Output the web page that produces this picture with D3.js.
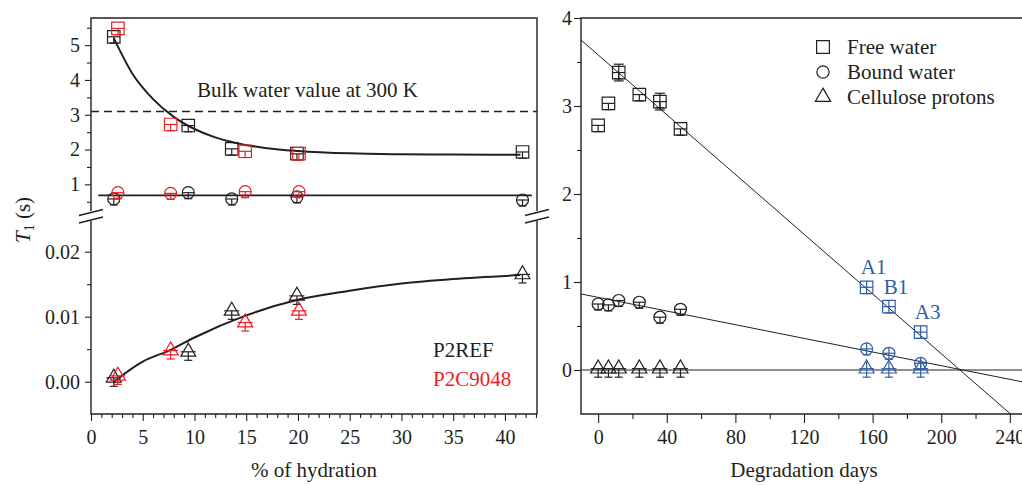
<!DOCTYPE html>
<html>
<head>
<meta charset="utf-8">
<script src="https://cdn.jsdelivr.net/npm/d3@7"></script>
<style>
  body { margin: 0; background: #fff; }
  svg { display: block; font-family: "Liberation Serif", "Times New Roman", serif; }
  .tick text { font-size: 20px; fill: #231f20; font-family: "Liberation Serif", "Times New Roman", serif; }
  .tick line { stroke: #231f20; stroke-width: 1.1; }
</style>
</head>
<body>
<svg id="chart" width="1022" height="485"></svg>
<script>

// -----------------------------------------------------------------------------
// Data
// -----------------------------------------------------------------------------

// left panel: T1 vs % of hydration
var refHyd     = [2.2, 9.4, 13.6, 19.9, 41.7];
var refFree    = [5.24, 2.69, 2.02, 1.88, 1.93];
var refBound   = [0.58, 0.76, 0.58, 0.64, 0.55];
var refCell    = [0.0006, 0.0046, 0.0109, 0.0132, 0.0165];

var c9048Hyd   = [2.6, 7.7, 14.9, 20.1];
var c9048Free  = [5.48, 2.72, 1.95, 1.88];
var c9048Bound = [0.76, 0.74, 0.79, 0.79];
var c9048Cell  = [0.0009, 0.0048, 0.0091, 0.0109];

var freeFitHydX  = [2.2, 4, 6, 8, 10, 12, 14, 17, 20, 25, 30, 35, 41.5];
var freeFitHydY  = [5.20, 4.18, 3.45, 2.94, 2.59, 2.35, 2.19, 2.04, 1.96, 1.89, 1.865, 1.855, 1.85];
var cellFitHydX  = [2.2, 5, 7.7, 10, 15, 20, 25, 30, 35, 41.5];
var cellFitHydY  = [0.0, 0.0031, 0.0049, 0.0068, 0.0102, 0.0126, 0.0140, 0.0151, 0.0158, 0.0164];
var boundFitHydX = [0.7, 42.6];
var boundFitHydY = [0.68, 0.68];
var bulkWater = 3.09;

// right panel: T1 vs degradation days
var degDays    = [0, 6, 12, 24, 36, 48];
var degFree    = [2.78, 3.03, 3.38, 3.13, 3.05, 2.74];
var degFreeErr = [0, 0, 0.095, 0, 0.095, 0];
var degBound   = [0.75, 0.74, 0.79, 0.77, 0.60, 0.69];
var degCell    = [0.015, 0.015, 0.015, 0.015, 0.015, 0.015];

var sampleNames = ["A1", "B1", "A3"];
var sampleDays  = [156.5, 169.5, 188];
var sampleFree  = [0.94, 0.72, 0.43];
var sampleBound = [0.24, 0.19, 0.076];
var sampleCell  = [0.015, 0.015, 0.015];

var freeFitDegX  = [-10, 240.4];
var freeFitDegY  = [3.75, -0.5];
var boundFitDegX = [-10, 250];
var boundFitDegY = [0.864, -0.145];
var zeroLineX    = [-10, 250];
var zeroLineY    = [0, 0];

// tick labels
var hydTicks    = [0, 5, 10, 15, 20, 25, 30, 35, 40];
var upperTicks  = [1, 2, 3, 4, 5];
var lowerTicks  = [0, 0.01, 0.02];
var degTicks    = [0, 40, 80, 120, 160, 200, 240];
var degYTicks   = [0, 1, 2, 3, 4];

var legendLabels = ["Free water", "Bound water", "Cellulose protons"];
var seriesNames  = ["P2REF", "P2C9048"];

// -----------------------------------------------------------------------------
// Configuration
// -----------------------------------------------------------------------------

var INK = "#231f20", RED = "#ed1c24", BLUE = "#2e5ea8";
var svg = d3.select("#chart");

var xL   = d3.scaleLinear().domain([0, 43.1]).range([91, 537]);
var yUp  = d3.scaleLinear().domain([0.32, 5.78]).range([208, 18]);
var yLo  = d3.scaleLinear().domain([-0.00497, 0.02457]).range([414, 222]);

var xR   = d3.scaleLinear().domain([-10, 250]).range([581, 1027]);
var yR   = d3.scaleLinear().domain([-0.5, 4]).range([414, 18]);

function range(a, b, step, skip) {
  var out = [];
  for (var v = a; v <= b + 1e-9; v += step) {
    var r = +v.toFixed(6);
    if (!skip || skip.indexOf(r) < 0) out.push(r);
  }
  return out;
}

// axes: majors + minors, no domain path (frame drawn separately)
function addAxis(axisFn, scale, majors, minors, majLen, minLen, pad, fmt, transform) {
  var g = svg.append("g").attr("transform", transform);
  g.call(axisFn(scale).tickValues(majors).tickSize(majLen).tickSizeOuter(0)
      .tickPadding(pad).tickFormat(fmt || d3.format("d")));
  g.select(".domain").remove();
  var m = svg.append("g").attr("transform", transform);
  m.call(axisFn(scale).tickValues(minors).tickSize(minLen).tickSizeOuter(0).tickFormat(""));
  m.select(".domain").remove();
  return g;
}

addAxis(d3.axisBottom, xL, hydTicks, range(1, 43, 1, hydTicks), 7, 4, 9, null, "translate(0,414)");
addAxis(d3.axisLeft, yUp, upperTicks, [0.5, 1.5, 2.5, 3.5, 4.5, 5.5], 6, 4, 5, null, "translate(91,0)");
addAxis(d3.axisLeft, yLo, lowerTicks, [0.005, 0.015], 6, 4, 5, d3.format(".2f"), "translate(91,0)");
addAxis(d3.axisBottom, xR, degTicks, range(20, 220, 40), 9, 5, 7, null, "translate(0,414)");
addAxis(d3.axisLeft, yR, degYTicks, [0.5, 1.5, 2.5, 3.5], 7, 4, 2, null, "translate(581,0)");

// frames
var frame = svg.append("g").attr("fill", "none").attr("stroke", INK).attr("stroke-width", 1.4);
frame.append("path").attr("d",
  "M" + xL(0) + ",211V" + yUp.range()[1] + "H" + xL.range()[1] + "V211" +
  "M" + xL(0) + ",221V" + yLo.range()[0] + "H" + xL.range()[1] + "V221");
frame.append("path").attr("d",
  "M1030," + yR.range()[1] + "H" + xR.range()[0] + "V" + yR.range()[0] + "H1030");

// axis break marks
var brk = svg.append("g").attr("stroke", INK).attr("stroke-width", 1.4);
[xL(0), xL.range()[1]].forEach(function(x) {
  [212.5, 220].forEach(function(y) {
    brk.append("line")
      .attr("x1", x - 12).attr("y1", y + 3)
      .attr("x2", x + 12).attr("y2", y - 3);
  });
});

// -----------------------------------------------------------------------------
// Lines
// -----------------------------------------------------------------------------

function zipXY(xs, ys) { return xs.map(function(x, i) { return [x, ys[i]]; }); }

var lineL  = d3.line().x(function(d) { return xL(d[0]); }).y(function(d) { return yUp(d[1]); }).curve(d3.curveMonotoneX);
var lineLo = d3.line().x(function(d) { return xL(d[0]); }).y(function(d) { return yLo(d[1]); }).curve(d3.curveMonotoneX);
var lineR  = d3.line().x(function(d) { return xR(d[0]); }).y(function(d) { return yR(d[1]); });

svg.append("line")
    .attr("x1", xL(0)).attr("x2", xL.range()[1])
    .attr("y1", yUp(bulkWater)).attr("y2", yUp(bulkWater))
    .attr("stroke", INK).attr("stroke-width", 1.5).attr("stroke-dasharray", "8,5");

svg.append("text")
    .attr("x", 197).attr("y", 97)
    .attr("fill", INK).style("font-size", "21px")
    .text("Bulk water value at 300 K");

svg.append("path").datum(zipXY(freeFitHydX, freeFitHydY))
    .attr("d", lineL).attr("fill", "none").attr("stroke", INK).attr("stroke-width", 2);
svg.append("path").datum(zipXY(boundFitHydX, boundFitHydY))
    .attr("d", lineL).attr("fill", "none").attr("stroke", INK).attr("stroke-width", 1.8);
svg.append("path").datum(zipXY(cellFitHydX, cellFitHydY))
    .attr("d", lineLo).attr("fill", "none").attr("stroke", INK).attr("stroke-width", 2);

svg.append("clipPath").attr("id", "clipR").append("rect")
    .attr("x", xR.range()[0]).attr("y", yR.range()[1])
    .attr("width", xR.range()[1] - xR.range()[0]).attr("height", yR.range()[0] - yR.range()[1]);

var rLines = svg.append("g").attr("clip-path", "url(#clipR)")
    .attr("fill", "none").attr("stroke", INK).attr("stroke-width", 1);
rLines.append("path").datum(zipXY(zeroLineX, zeroLineY)).attr("d", lineR).attr("stroke-width", 1.1);
rLines.append("path").datum(zipXY(freeFitDegX, freeFitDegY)).attr("d", lineR);
rLines.append("path").datum(zipXY(boundFitDegX, boundFitDegY)).attr("d", lineR);

// -----------------------------------------------------------------------------
// Markers
// -----------------------------------------------------------------------------

var SHAPES = {
  square:   { type: d3.symbolSquare,   size: 156, half: 6.25, bottom: 6.25 },
  circle:   { type: d3.symbolCircle,   size: 113, half: 6,    bottom: 6 },
  triangle: { type: d3.symbolTriangle, size: 97,  half: 7.5,  bottom: 8.5 }
};

function marker(g, shape, cx, cy, color, full) {
  var s = SHAPES[shape];
  var m = g.append("g").attr("transform", "translate(" + cx + "," + cy + ")")
      .attr("stroke", color).attr("fill", "none").attr("stroke-width", 1.2);
  m.append("path").attr("d", d3.symbol().type(s.type).size(s.size)());
  var top = full ? -s.half : 0;
  m.append("line").attr("x1", -s.half).attr("x2", s.half).attr("y1", 0).attr("y2", 0);
  m.append("line").attr("x1", 0).attr("x2", 0).attr("y1", top).attr("y2", s.bottom);
  m.append("line").attr("x1", -4).attr("x2", 4).attr("y1", s.bottom).attr("y2", s.bottom);
  return m;
}

var marks = svg.append("g");

function plotSeries(xs, ys, xScale, yScale, shape, color, full) {
  xs.forEach(function(x, i) {
    marker(marks, shape, xScale(x), yScale(ys[i]), color, full);
  });
}

// left panel
plotSeries(refHyd, refFree, xL, yUp, "square", INK);
plotSeries(c9048Hyd, c9048Free, xL, yUp, "square", RED);
plotSeries(refHyd, refBound, xL, yUp, "circle", INK);
plotSeries(c9048Hyd, c9048Bound, xL, yUp, "circle", RED);
plotSeries(refHyd, refCell, xL, yLo, "triangle", INK);
plotSeries(c9048Hyd, c9048Cell, xL, yLo, "triangle", RED);

// right panel
plotSeries(degDays, degFree, xR, yR, "square", INK);
plotSeries(degDays, degBound, xR, yR, "circle", INK);
plotSeries(degDays, degCell, xR, yR, "triangle", INK);
plotSeries(sampleDays, sampleFree, xR, yR, "square", BLUE, true);
plotSeries(sampleDays, sampleBound, xR, yR, "circle", BLUE, true);
plotSeries(sampleDays, sampleCell, xR, yR, "triangle", BLUE, true);

// error bars on free water (right)
degDays.forEach(function(d, i) {
  if (!degFreeErr[i]) return;
  var x = xR(d), y0 = yR(degFree[i] - degFreeErr[i]), y1 = yR(degFree[i] + degFreeErr[i]);
  var e = marks.append("g").attr("stroke", INK).attr("stroke-width", 1.2);
  e.append("line").attr("x1", x).attr("x2", x).attr("y1", y0).attr("y2", y1);
  e.append("line").attr("x1", x - 5).attr("x2", x + 5).attr("y1", y0).attr("y2", y0);
  e.append("line").attr("x1", x - 5).attr("x2", x + 5).attr("y1", y1).attr("y2", y1);
});

// sample labels
sampleNames.forEach(function(name, i) {
  svg.append("text")
      .attr("x", xR(sampleDays[i]) + 7).attr("y", yR(sampleFree[i]) - 13)
      .attr("text-anchor", "middle").attr("fill", BLUE).style("font-size", "21px")
      .text(name);
});

// -----------------------------------------------------------------------------
// Legends and titles
// -----------------------------------------------------------------------------

var legShapes = ["square", "circle", "triangle"];
legendLabels.forEach(function(label, i) {
  var y = 47 + i * 25;
  var s = SHAPES[legShapes[i]];
  svg.append("path")
      .attr("transform", "translate(823," + y + ")")
      .attr("d", d3.symbol().type(s.type).size(s.size * 1.05)())
      .attr("fill", "none").attr("stroke", INK).attr("stroke-width", 1.2);
  svg.append("text")
      .attr("x", 847).attr("y", y + 7)
      .attr("fill", INK).style("font-size", "21px")
      .text(label);
});

svg.append("text").attr("x", 433).attr("y", 357)
    .attr("fill", INK).style("font-size", "21px").text(seriesNames[0]);
svg.append("text").attr("x", 433).attr("y", 386)
    .attr("fill", RED).style("font-size", "21px").text(seriesNames[1]);

svg.append("text").attr("x", 314).attr("y", 477)
    .attr("text-anchor", "middle").attr("fill", INK).style("font-size", "21px")
    .text("% of hydration");
svg.append("text").attr("x", 804).attr("y", 477)
    .attr("text-anchor", "middle").attr("fill", INK).style("font-size", "21px")
    .text("Degradation days");

var yt = svg.append("text")
    .attr("transform", "translate(30,220) rotate(-90)")
    .attr("text-anchor", "middle").attr("fill", INK).style("font-size", "21px");
yt.append("tspan").style("font-style", "italic").text("T");
yt.append("tspan").attr("dy", 4).style("font-size", "14px").text("1");
yt.append("tspan").attr("dy", -4).text(" (s)");

</script>
</body>
</html>
